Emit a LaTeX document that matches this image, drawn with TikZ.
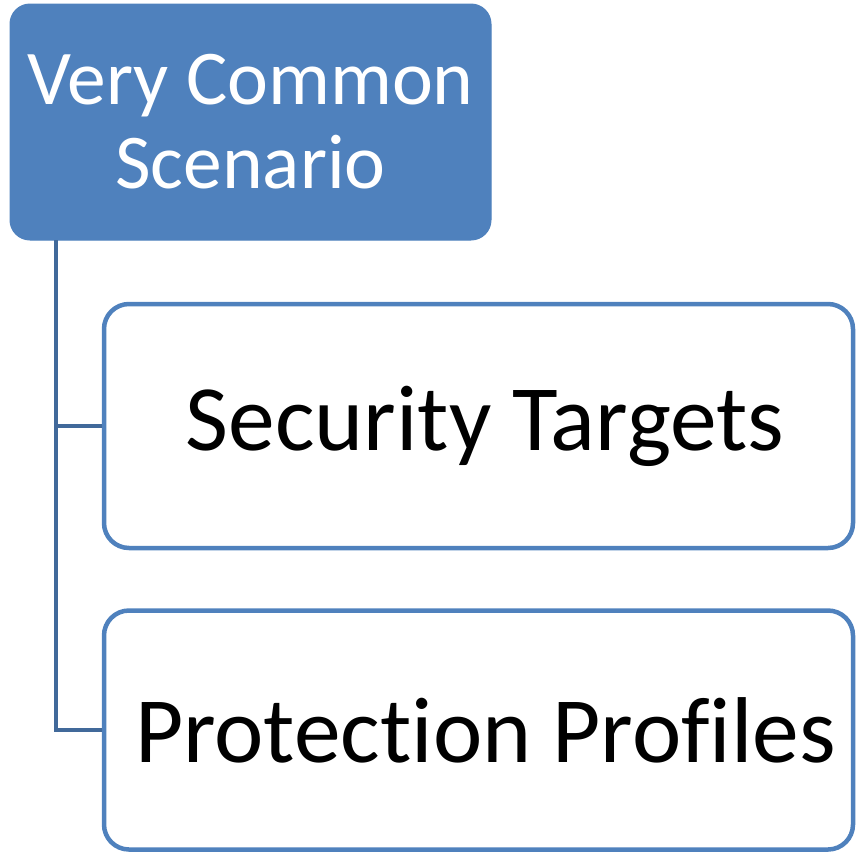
\documentclass[tikz,border=0pt]{standalone}
\usepackage{fontspec}
\setmainfont{Carlito}[Ligatures=NoCommon]
\definecolor{accent}{HTML}{4F81BD}
\definecolor{linkc}{HTML}{41699A}
\begin{document}
\begin{tikzpicture}[x=1pt,y=-1pt,
  topbox/.style={rectangle, rounded corners=20pt, fill=accent, draw=accent, line width=1pt,
    minimum width=481pt, minimum height=236pt, inner sep=0pt, text=white, align=center,
    font=\fontsize{77.5}{84}\selectfont},
  itembox/.style={rectangle, rounded corners=25pt, fill=white, draw=accent, line width=4.5pt,
    minimum width=749pt, minimum height=244pt, inner sep=0pt, text=black,
    font=\fontsize{93.5}{100}\selectfont},
  conn/.style={draw=linkc, line width=4.5pt}]
\useasboundingbox (0,0) rectangle (856,852);
\begin{scope}
\clip (0,0) rectangle (856,852);
\node[topbox] (top) at (250.5,122) {Very Common\\Scenario};
\node[itembox] (st) at (478.5,426) {\hspace*{13pt}Security Targets};
\node[itembox, minimum height=239pt] (pp) at (478.5,730) {\hspace*{14pt}Protection Profiles};
\coordinate (c0) at (56,240);
\draw[conn] (c0) |- (st.west);
\draw[conn] (c0) |- (pp.west);
\end{scope}
\end{tikzpicture}
\end{document}
